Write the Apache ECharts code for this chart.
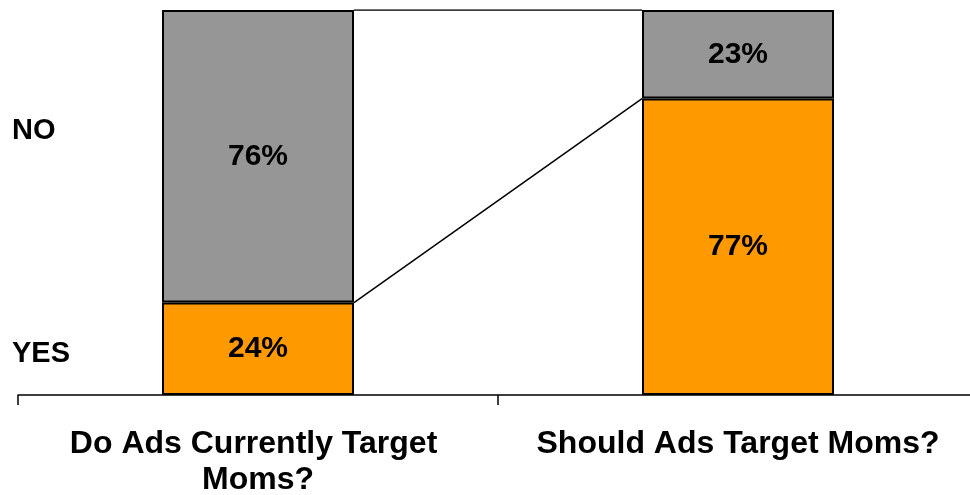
<!DOCTYPE html>
<html>
<head>
<meta charset="utf-8">
<script src="https://cdn.jsdelivr.net/npm/echarts@6/dist/echarts.min.js"></script>
<style>
html,body{margin:0;padding:0;background:#fff;}
#chart{width:970px;height:495px;}
</style>
</head>
<body>
<div id="chart"></div>
<script>
const categories = ['Do Ads Currently Target Moms?', 'Should Ads Target Moms?'];
const yesValues = [24, 77];
const noValues = [76, 23];
const rowLabels = ['NO', 'YES'];

const FONT = "'Liberation Sans', Arial, sans-serif";
const chart = echarts.init(document.getElementById('chart'));

// series lines connecting bar edges (bar width 40% of each category)
const half = 0.2;
const yesTops = yesValues.map(v => v);
const noTops = yesValues.map((v, i) => v + noValues[i]);
const yesLine = [[0.5 + half, yesTops[0]], [1.5 - half, yesTops[1]]];
const noLine = [[0.5 + half, noTops[0]], [1.5 - half, noTops[1]]];

const labelStyle = {
  show: true, position: 'inside', formatter: '{c}%',
  color: '#000', fontFamily: FONT, fontWeight: 'bold', fontSize: 30
};

chart.setOption({
  animation: false,
  backgroundColor: '#fff',
  grid: { left: 18, width: 960, top: 10, height: 385, outerBoundsMode: 'none', containLabel: false },
  xAxis: [{
    type: 'category', data: categories, boundaryGap: true,
    axisLine: { show: true, lineStyle: { color: '#000', width: 1.5 } },
    axisTick: { show: true, length: 10, lineStyle: { color: '#000', width: 1.5 } },
    axisLabel: {
      interval: 0, hideOverlap: false,
      color: '#000', fontFamily: FONT, fontWeight: 'bold', fontSize: 32,
      lineHeight: 36, margin: 31, width: 440, overflow: 'break', align: 'center'
    }
  }, {
    type: 'value', min: 0, max: 2, show: false
  }],
  yAxis: {
    type: 'value', min: 0, max: 100, show: false, splitLine: { show: false }
  },
  series: [{
    name: 'YES', type: 'bar', stack: 'a', barWidth: '40%', data: yesValues,
    itemStyle: { color: '#FF9900', borderColor: '#000', borderWidth: 2 },
    label: labelStyle, z: 3
  }, {
    name: 'NO', type: 'bar', stack: 'a', barWidth: '40%', data: noValues,
    itemStyle: { color: '#969696', borderColor: '#000', borderWidth: 2 },
    label: labelStyle, z: 3
  }, {
    type: 'line', xAxisIndex: 1, data: yesLine, symbol: 'none',
    lineStyle: { color: '#000', width: 1.5 }, z: 2
  }, {
    type: 'line', xAxisIndex: 1, data: noLine, symbol: 'none',
    lineStyle: { color: '#000', width: 1.5 }, z: 2
  }],
  graphic: [{
    type: 'text', left: 12, top: 131 - 15,
    style: { text: rowLabels[0], fill: '#000', font: "bold 29px " + FONT }
  }, {
    type: 'text', left: 12, top: 354 - 15,
    style: { text: rowLabels[1], fill: '#000', font: "bold 29px " + FONT }
  }]
});
</script>
</body>
</html>
